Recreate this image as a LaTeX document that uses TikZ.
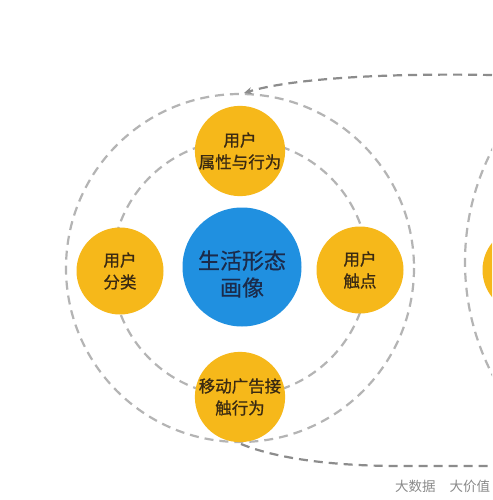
\documentclass[tikz,border=0pt]{standalone}
\usepackage{fontspec}
\setmainfont{Noto Sans CJK SC}
\newfontfamily\bubfont[FakeBold=0.9]{Noto Sans CJK SC}
\newfontfamily\corefont[FakeBold=0.5]{Noto Sans CJK SC}
\usetikzlibrary{arrows.meta}
\definecolor{ylw}{HTML}{F6B81A}
\definecolor{blu}{HTML}{2090E0}
\definecolor{ytxt}{HTML}{3A2A12}
\definecolor{btxt}{HTML}{1B2B4B}
\definecolor{ring}{HTML}{B4B4B4}
\definecolor{conn}{HTML}{8C8C8C}
\definecolor{foot}{HTML}{8A8A8A}
\tikzset{
  ringline/.style={draw=ring, line width=2.2pt, dash pattern=on 9pt off 6pt},
  connline/.style={draw=conn, line width=2.2pt, dash pattern=on 9pt off 6pt},
  ybub/.style={circle, fill=ylw, minimum size=87pt, inner sep=0pt, text=ytxt,
    align=center, font=\bubfont\fontsize{16.5}{22}\selectfont},
  bbub/.style={circle, fill=blu, minimum size=119pt, inner sep=0pt},
  btext/.style={text=btxt, align=center, inner sep=0pt,
    font=\corefont\fontsize{22}{27}\selectfont},
}
\begin{document}
\begin{tikzpicture}[x=1pt,y=-1pt]
\useasboundingbox (0,0) rectangle (492,500);
\clip (0,0) rectangle (492,500);
\fill[white] (0,0) rectangle (492,500);
% rings
\coordinate (c) at (240,268);
\draw[ringline] (c) circle[radius=128];
\draw[ringline] (c) circle[radius=174];
% partial next diagram on the right
\draw[ringline] (710,262) circle[radius=245];
\node[ybub] (nextb) at (526,270) {};
% connectors
\coordinate (tin) at (492,75);
\coordinate (ttip) at (244,93);
\draw[connline, -{Stealth[length=8pt,width=7pt]}] (tin) .. controls (380,73) and (290,79) .. (ttip);
\coordinate (bs) at (241,444);
\coordinate (bm) at (400,466);
\coordinate (be) at (492,466);
\draw[connline] (bs) .. controls (275,458) and (330,466) .. (bm) -- (be);
% bubbles
\node[bbub] (core) at (242,267) {};
\node[btext] (coretext) at (242,274) {生活形态\\画像};
\node[ybub] (top) at (240,151) {用户\\属性与行为};
\node[ybub] (left) at (120,271) {用户\\分类};
\node[ybub] (right) at (360,270) {用户\\触点};
\node[ybub] (bot) at (240,397) {移动广告接\\触行为};
% footer
\node[anchor=west, text=foot, font=\fontsize{13.5}{15}\selectfont, inner sep=0pt] (foot) at (395,486) {大数据\hspace{14pt}大价值};
\end{tikzpicture}
\end{document}
